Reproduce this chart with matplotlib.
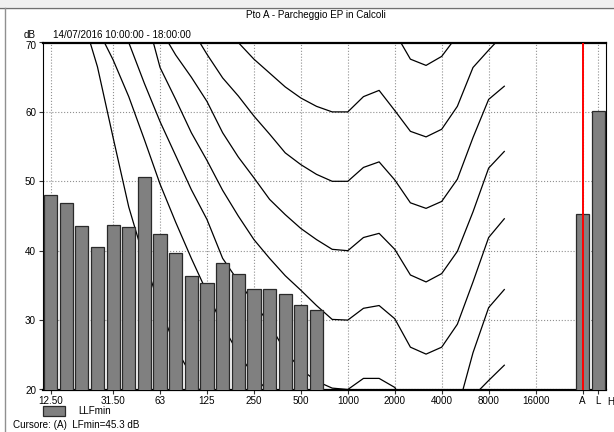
import matplotlib.pyplot as plt
import matplotlib.transforms as mtransforms
from matplotlib.patches import Rectangle
from matplotlib.lines import Line2D
import numpy as np

plt.rcParams['font.family'] = ['Liberation Sans', 'DejaVu Sans']

# 1/3 octave bands, 12.5 Hz .. 20 kHz, then broadband A / L / H
bands = ['12.5', '16', '20', '25', '31.5', '40', '50', '63', '80', '100',
         '125', '160', '200', '250', '315', '400', '500', '630', '800', '1000',
         '1250', '1600', '2000', '2500', '3150', '4000', '5000', '6300', '8000',
         '10000', '12500', '16000', '20000']
broad = ['A', 'L', 'H']

# LLFmin spectrum (12.5 Hz .. 630 Hz) and broadband values
llfmin = [48.0, 46.9, 43.5, 40.5, 43.7, 43.4, 50.6, 42.4, 39.6, 36.4,
          35.3, 38.2, 36.7, 34.5, 34.5, 33.8, 32.2, 31.4]
llfmin_broad = [45.3, 60.2]

# isophone curves, 20 Hz .. 10 kHz
iso_bands = bands[2:30]
iso_t = [74.0, 66.5, 56.3, 46.3, 38.7, 31.8, 26.0, 22.0, 18.0, 15.0, 12.0, 10.0, 8.0, 6.0,
         5.0, 4.0, 4.0, 4.0, 5.0, 5.0, 3.0, 0.0, -1.0, 0.0, 3.0, 8.0, 12.0, 14.0]
iso_10 = [80.0, 72.0, 67.5, 62.2, 56.0, 49.6, 44.1, 38.9, 34.0, 29.2, 25.2, 22.0, 19.5, 17.0,
          15.0, 13.0, 11.5, 10.0, 11.6, 11.6, 10.0, 6.5, 5.5, 6.5, 10.0, 19.0, 21.3, 23.5]
iso_20 = [88.0, 80.0, 74.0, 70.0, 64.1, 58.6, 53.7, 48.8, 44.5, 38.9, 35.6, 32.5, 29.4, 25.5,
          22.9, 21.2, 20.2, 20.0, 21.6, 21.6, 20.3, 16.5, 15.5, 16.5, 17.0, 25.3, 31.8, 34.4]
iso_30 = [95.0, 88.0, 83.0, 78.5, 74.8, 66.4, 61.8, 57.0, 53.0, 48.7, 45.0, 41.6, 38.9, 36.4,
          34.3, 32.1, 30.1, 30.0, 31.7, 32.1, 30.2, 26.1, 25.1, 26.1, 29.4, 35.5, 41.9, 44.6]
iso_40 = [100.0, 93.0, 87.0, 82.0, 77.0, 72.0, 68.2, 65.0, 61.5, 57.0, 53.5, 50.5, 47.4, 45.2,
          43.2, 41.6, 40.2, 40.0, 41.9, 42.5, 40.2, 36.5, 35.5, 36.7, 39.9, 45.6, 51.9, 54.3]
iso_50 = [105.0, 99.0, 93.0, 88.0, 83.0, 78.0, 75.0, 72.0, 68.3, 64.9, 62.3, 59.4, 56.8, 54.1,
          52.4, 51.0, 50.0, 50.0, 52.0, 52.8, 50.2, 46.9, 46.1, 47.1, 50.3, 56.3, 61.8, 63.7]
iso_60 = [110.0, 104.0, 98.0, 93.0, 89.0, 85.0, 81.0, 78.0, 75.5, 73.0, 70.0, 67.6, 65.6, 63.6,
          62.0, 60.8, 60.0, 60.0, 62.2, 63.1, 60.2, 57.2, 56.4, 57.5, 60.8, 66.4, 68.9, 71.3]
iso_70 = [115.0, 110.0, 105.0, 100.0, 96.0, 92.0, 89.0, 86.0, 83.0, 80.0, 78.0, 76.5, 75.0, 73.5,
          72.3, 71.3, 70.5, 70.0, 72.0, 73.0, 71.5, 67.6, 66.7, 68.0, 71.0, 76.0, 79.0, 81.0]

tick_bands = ['12.5', '31.5', '63', '125', '250', '500', '1000', '2000', '4000', '8000', '16000']
tick_labels = ['12.50', '31.50', '63', '125', '250', '500', '1000', '2000', '4000', '8000', '16000']

title = 'Pto A - Parcheggio EP in Calcoli'
period = '14/07/2016 10:00:00 - 18:00:00'
cursor = 'Cursore: (A)  LFmin=45.3 dB'

W, H = 614, 432
FS = 7.1
fig = plt.figure(figsize=(W / 100, H / 100), dpi=100)

# window frame
fig.patches.append(Rectangle((0, 1 - 7 / H), 1, 7 / H, transform=fig.transFigure,
                             facecolor='#f0f0f0', edgecolor='none'))
fig.lines.append(Line2D([0, 1], [1 - 7.5 / H] * 2, transform=fig.transFigure, color='#707070', lw=1))
fig.lines.append(Line2D([4.5 / W] * 2, [0, 1 - 7.5 / H], transform=fig.transFigure, color='#909090', lw=1))

ax = fig.add_axes([43 / W, 1 - 389.5 / H, (606 - 43) / W, (389.5 - 42.5) / H])

# band positions: broadband values sit two slots after 20 kHz
pos = {b: i for i, b in enumerate(bands)}
for k, b in enumerate(broad):
    pos[b] = len(bands) + 1 + k
xi = [pos[b] for b in iso_bands]

for curve in [iso_t, iso_10, iso_20, iso_30, iso_40, iso_50, iso_60, iso_70]:
    ax.plot(xi, curve, color='black', lw=0.9, zorder=2)

ax.bar([pos[b] for b in bands[:len(llfmin)]], llfmin, width=0.84, color='#808080',
       edgecolor='#2a2a2a', linewidth=0.9, zorder=3)
ax.bar([pos[b] for b in broad[:len(llfmin_broad)]], llfmin_broad, width=0.84, color='#808080',
       edgecolor='#2a2a2a', linewidth=0.9, zorder=3)

ax.axvline(pos['A'], color='#ff0000', lw=1.4, zorder=4)

ax.set_xlim(-0.48, 35.5)
ax.set_ylim(20, 70)
ax.set_yticks(range(20, 71, 10))
ax.set_xticks([pos[b] for b in tick_bands] + [pos['A'], pos['L']])
ax.set_xticklabels(tick_labels + ['A', 'L'])
# "H" label falls just outside the plot, at the window edge
ax.text(pos['L'] + 0.8, -0.022, 'H', transform=ax.get_xaxis_transform(), ha='center', va='top',
        fontsize=FS, clip_on=False)
ax.tick_params(axis='both', labelsize=FS, length=3, width=0.8, pad=2, color='#333333')
ax.grid(True, color='#909090', linestyle=':', linewidth=0.8, zorder=0)
ax.set_axisbelow(True)
for side in ['left', 'right']:
    ax.spines[side].set_linewidth(0.8)
for side in ['top', 'bottom']:
    ax.spines[side].set_linewidth(1.6)

# top label "70" sits a little below its gridline
top_lab = ax.get_yticklabels()[-1]
top_lab.set_transform(top_lab.get_transform() + mtransforms.ScaledTranslation(0, -2.5 / 100, fig.dpi_scale_trans))

fig.text(316 / W, 1 - 15 / H, title, ha='center', va='center', fontsize=FS)
fig.text(53 / W, 1 - 35.5 / H, period, ha='left', va='center', fontsize=FS)
fig.text(36 / W, 1 - 35.5 / H, 'dB', ha='right', va='center', fontsize=FS)

# legend
fig.patches.append(Rectangle((43 / W, 1 - 416 / H), 22 / W, 10 / H, transform=fig.transFigure,
                             facecolor='#808080', edgecolor='#2a2a2a', lw=0.9))
fig.text(78 / W, 1 - 411 / H, 'LLFmin', ha='left', va='center', fontsize=FS)
fig.text(13 / W, 1 - 425 / H, cursor, ha='left', va='center', fontsize=FS)

fig.savefig('out.png', dpi=100)
